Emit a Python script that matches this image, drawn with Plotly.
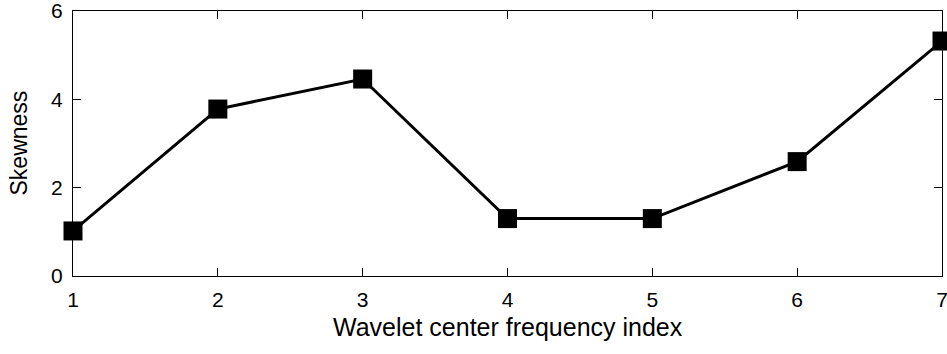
import plotly.graph_objects as go

# Skewness per wavelet center frequency index
freq_index = [1, 2, 3, 4, 5, 6, 7]
skewness = [1.02, 3.78, 4.46, 1.30, 1.30, 2.59, 5.32]
x_ticks = [1, 2, 3, 4, 5, 6, 7]
y_ticks = [0, 2, 4, 6]
x_label = "Wavelet center frequency index"
y_label = "Skewness"

FONT = "Liberation Sans, Arial, sans-serif"

fig = go.Figure(
    go.Scatter(
        x=freq_index,
        y=skewness,
        mode="lines+markers",
        line=dict(color="black", width=3),
        marker=dict(symbol="square", size=19, color="black"),
        cliponaxis=False,
    )
)

axis_common = dict(
    showline=True,
    linecolor="black",
    linewidth=1,
    mirror="ticks",
    ticks="inside",
    ticklen=8,
    tickcolor="black",
    tickwidth=1,
    showgrid=False,
    zeroline=False,
    automargin=False,
    ticklabeloverflow="allow",
    ticklabelstandoff=5,
    tickfont=dict(family=FONT, size=21, color="black"),
)

fig.update_xaxes(
    range=[1, 7.00001],
    tickvals=x_ticks,
    ticktext=[str(v) for v in x_ticks],
    **axis_common,
)
fig.update_yaxes(
    range=[0, 6.00001],
    tickvals=y_ticks,
    ticktext=[str(v) for v in y_ticks],
    **axis_common,
)

# Axis titles placed as annotations relative to the plot area
fig.add_annotation(
    text=x_label, xref="paper", yref="paper", x=0.5, y=0,
    xanchor="center", yanchor="top", yshift=-35, showarrow=False,
    font=dict(family=FONT, size=25, color="black"),
)
fig.add_annotation(
    text=y_label, xref="paper", yref="paper", x=0, y=0.5,
    xanchor="center", yanchor="middle", xshift=-55, textangle=-90,
    showarrow=False, font=dict(family=FONT, size=23, color="black"),
)

fig.update_layout(
    width=947,
    height=354,
    margin=dict(l=73, r=5, t=11, b=78),
    paper_bgcolor="white",
    plot_bgcolor="white",
    showlegend=False,
)

fig.write_html("out.html")
